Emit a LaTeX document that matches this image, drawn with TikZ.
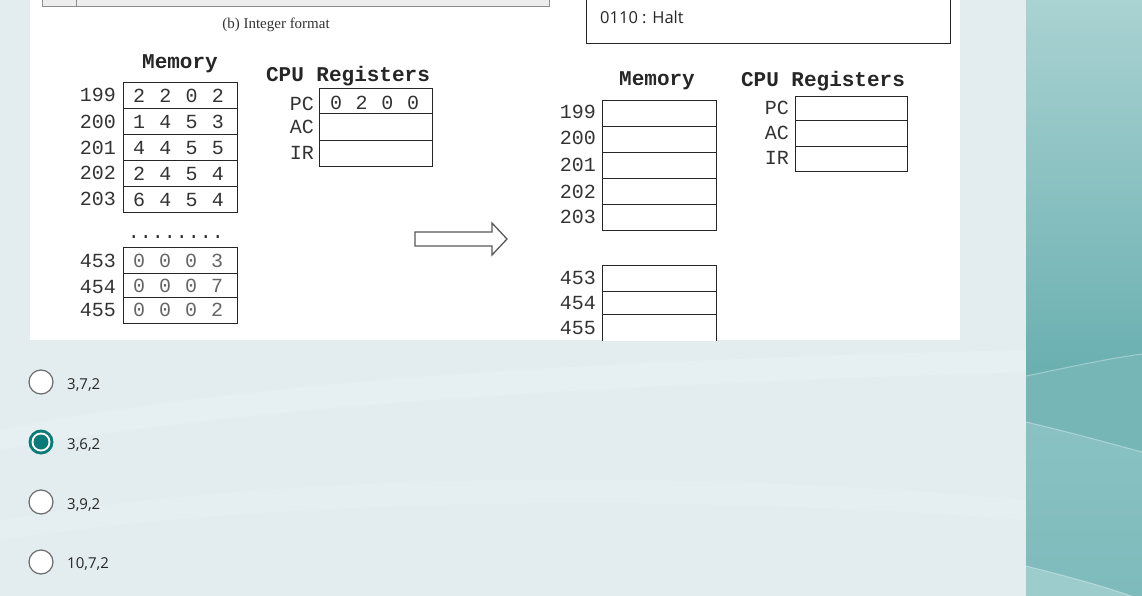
\documentclass[tikz,border=0pt]{standalone}
\usepackage{fontspec}
\newfontfamily\cour{Liberation Mono}
\newfontfamily\osans{Open Sans}
\newfontfamily\tnr{Liberation Serif}
\definecolor{bg}{HTML}{E3EDEF}
\definecolor{tealA}{HTML}{AAD2D2}
\definecolor{tealB}{HTML}{69AFB0}
\definecolor{tealC}{HTML}{76B6B7}
\definecolor{tealD}{HTML}{8AC2C3}
\definecolor{tealE}{HTML}{9CCCCC}
\definecolor{tealsel}{HTML}{0B7A78}
\begin{document}
\begin{tikzpicture}[x=1pt,y=-1pt,
  cell/.style={draw=black!85,line width=0.9pt,minimum width=114pt,inner sep=0pt,fill=white},
  reg/.style={draw=black!85,line width=0.9pt,minimum width=113pt,inner sep=0pt,fill=white},
  addr/.style={font=\cour\fontsize{20}{20}\selectfont,anchor=east,inner sep=0pt,text=black!80},
  dig/.style={font=\cour\fontsize{20}{20}\selectfont,inner sep=0pt,text=black!80},
  ttl/.style={font=\cour\bfseries\fontsize{21}{21}\selectfont,inner sep=0pt,anchor=base,text=black!85},
  radio/.style={circle,draw=black!58,line width=1.2pt,fill=white,minimum size=24pt,inner sep=0pt},
  opt/.style={font=\osans\fontsize{15}{15}\selectfont,anchor=base west,inner sep=0pt,text=black!85}]
\useasboundingbox (0,0) rectangle (1142,596);
% page background
\fill[bg] (0,0) rectangle (1142,596);
\fill[white,opacity=0.13] (0,430) .. controls (250,380) and (600,360) .. (1026,350) -- (1026,372) .. controls (600,385) and (250,405) .. (0,450) -- cycle;
\fill[white,opacity=0.08] (0,520) .. controls (300,470) and (700,470) .. (1026,500) -- (1026,520) .. controls (700,495) and (300,495) .. (0,540) -- cycle;
% teal side panel
\shade[top color=tealA,bottom color=tealB] (1026,0) rectangle (1142,380);
\fill[tealC] (1026,376) .. controls (1065,368) and (1105,359) .. (1142,354) -- (1142,596) -- (1026,596) -- cycle;
\shade[top color=tealD,bottom color=tealC!60!tealD] (1026,422) .. controls (1065,431) and (1105,442) .. (1142,452) -- (1142,596) -- (1026,596) -- cycle;
\fill[tealE] (1026,566) .. controls (1065,576) and (1105,586) .. (1142,600) -- (1142,596) -- (1026,596) -- cycle;
\draw[white,opacity=0.35,line width=1pt] (1026,376) .. controls (1065,368) and (1105,359) .. (1142,354);
\draw[white,opacity=0.35,line width=1pt] (1026,422) .. controls (1065,431) and (1105,442) .. (1142,452);
\draw[white,opacity=0.35,line width=1pt] (1026,566) .. controls (1065,576) and (1105,586) .. (1142,600);
% white image panel
\fill[white] (30,0) rectangle (960,340);
% top fragments
\draw[black!45,fill=black!7] (42,-3) rectangle (549,6);
\draw[black!45] (76,-3) -- (76,6);
\node[font=\tnr\fontsize{15}{15}\selectfont,text=black!80,inner sep=0pt,anchor=base] (cap) at (276,28.5) {(b) Integer format};
\node[draw=black!85,line width=1.1pt,minimum width=364pt,minimum height=46pt,anchor=north west,inner sep=0pt] (instr) at (586,-3) {};
\node[font=\osans\fontsize{16.5}{16.5}\selectfont,anchor=base west,inner sep=0pt,text=black!85] (halt) at (600,24) {0110 : Halt};
% ---------- left memory ----------
\node[ttl] (lmt) at (180,68.5) {Memory};
\node[cell,minimum height=26pt] (L199) at (180,95) {};
\node[cell,minimum height=26pt] (L200) at (180,121) {};
\node[cell,minimum height=26pt] (L201) at (180,147) {};
\node[cell,minimum height=26pt] (L202) at (180,173) {};
\node[cell,minimum height=26pt] (L203) at (180,199) {};
\node[addr] (L199a) at (116,95) {199};
\node[addr] (L200a) at (116,122) {200};
\node[addr] (L201a) at (116,148) {201};
\node[addr] (L202a) at (116,173) {202};
\node[addr] (L203a) at (116,199) {203};
\foreach \d [count=\i] in {2,2,0,2} \node[dig] (L199d\i) at ({139+26.3*(\i-1)},96) {\d};
\foreach \d [count=\i] in {1,4,5,3} \node[dig] (L200d\i) at ({139+26.3*(\i-1)},122) {\d};
\foreach \d [count=\i] in {4,4,5,5} \node[dig] (L201d\i) at ({139+26.3*(\i-1)},148) {\d};
\foreach \d [count=\i] in {2,4,5,4} \node[dig] (L202d\i) at ({139+26.3*(\i-1)},174) {\d};
\foreach \d [count=\i] in {6,4,5,4} \node[dig] (L203d\i) at ({139+26.3*(\i-1)},200) {\d};
\node[dig] (ldots) at (176,237) {........};
\node[cell,minimum height=26pt] (L453) at (180,260) {};
\node[cell,minimum height=24pt] (L454) at (180,285) {};
\node[cell,minimum height=26pt] (L455) at (180,310) {};
\node[addr] (L453a) at (116,261) {453};
\node[addr] (L454a) at (116,287) {454};
\node[addr] (L455a) at (116,310) {455};
\foreach \d [count=\i] in {0,0,0,3} \node[dig,text=black!60] (L453d\i) at ({139+26*(\i-1)},261) {\d};
\foreach \d [count=\i] in {0,0,0,7} \node[dig,text=black!60] (L454d\i) at ({139+26*(\i-1)},286) {\d};
\foreach \d [count=\i] in {0,0,0,2} \node[dig,text=black!60] (L455d\i) at ({139+26*(\i-1)},310) {\d};
% ---------- left CPU registers ----------
\node[ttl] (lct) at (348,81.5) {CPU Registers};
\node[reg,minimum height=25pt] (LPC) at (375.5,100.5) {};
\node[reg,minimum height=27pt] (LAC) at (375.5,126.5) {};
\node[reg,minimum height=26pt] (LIR) at (375.5,153) {};
\node[addr] (LPCl) at (314,104) {PC};
\node[addr] (LACl) at (314,127) {AC};
\node[addr] (LIRl) at (314,153) {IR};
\foreach \d [count=\i] in {0,2,0,0} \node[dig] (LPCd\i) at ({336+25.7*(\i-1)},103) {\d};
% ---------- arrow ----------
\draw[black!65,line width=1.3pt,fill=white,line join=miter] (415,232) -- (492,232) -- (492,223) -- (507,239) -- (492,255) -- (492,246) -- (415,246) -- cycle;
% ---------- right memory ----------
\node[ttl] (rmt) at (657,86) {Memory};
\node[cell,minimum height=26pt] (R199) at (659,113) {};
\node[cell,minimum height=26pt] (R200) at (659,139) {};
\node[cell,minimum height=26pt] (R201) at (659,165) {};
\node[cell,minimum height=26pt] (R202) at (659,191) {};
\node[cell,minimum height=26pt] (R203) at (659,217) {};
\node[addr] (R199a) at (596,112) {199};
\node[addr] (R200a) at (596,138) {200};
\node[addr] (R201a) at (596,165) {201};
\node[addr] (R202a) at (596,192) {202};
\node[addr] (R203a) at (596,217) {203};
\begin{scope}
\clip (30,0) rectangle (960,340);
\node[cell,minimum height=26pt] (R453) at (659,278) {};
\node[cell,minimum height=23pt] (R454) at (659,302.5) {};
\node[cell,minimum height=28pt] (R455) at (659,328) {};
\end{scope}
\node[addr] (R453a) at (596,278) {453};
\node[addr] (R454a) at (596,303) {454};
\node[addr] (R455a) at (596,328) {455};
% ---------- right CPU registers ----------
\node[ttl] (rct) at (823,86.5) {CPU Registers};
\node[reg,minimum width=112pt,minimum height=24pt] (RPC) at (851,108) {};
\node[reg,minimum width=112pt,minimum height=26pt] (RAC) at (851,133) {};
\node[reg,minimum width=112pt,minimum height=25pt] (RIR) at (851,158.5) {};
\node[addr] (RPCl) at (789,108) {PC};
\node[addr] (RACl) at (789,133) {AC};
\node[addr] (RIRl) at (789,158) {IR};
% ---------- answer options ----------
\node[radio] (r1) at (41,382) {};
\node[circle,fill=tealsel,minimum size=25pt,inner sep=0pt] (r2) at (41,442) {};
\node[circle,fill=white,minimum size=19pt,inner sep=0pt] (r2w) at (41,442) {};
\node[circle,fill=tealsel,minimum size=15pt,inner sep=0pt] (r2i) at (41,442) {};
\node[radio] (r3) at (41,502) {};
\node[radio] (r4) at (41,562) {};
\node[opt] (t1) at (67,389) {3,7,2};
\node[opt] (t2) at (67,449) {3,6,2};
\node[opt] (t3) at (67,509) {3,9,2};
\node[opt] (t4) at (67,568) {10,7,2};
\end{tikzpicture}
\end{document}
